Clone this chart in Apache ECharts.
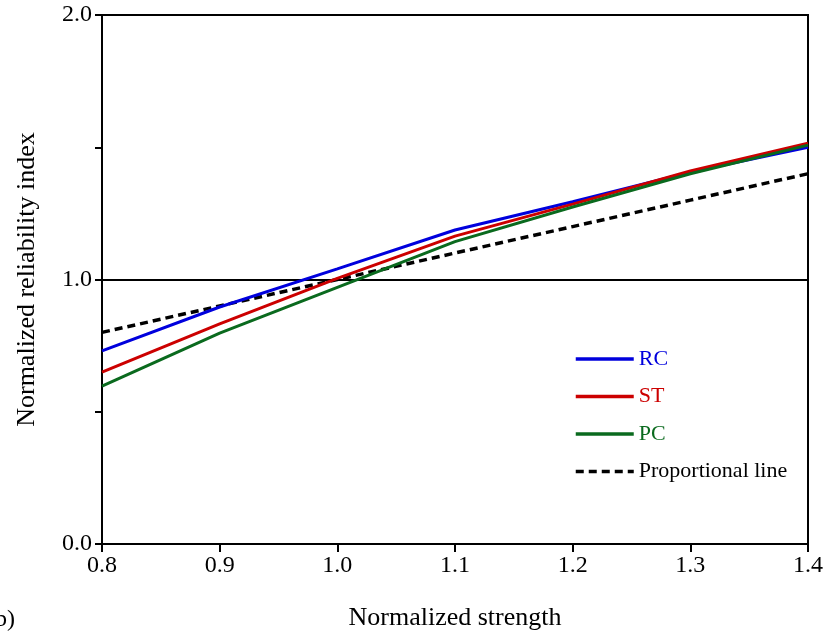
<!DOCTYPE html>
<html><head><meta charset="utf-8">
<script src="https://cdn.jsdelivr.net/npm/echarts@6/dist/echarts.min.js"></script>
<style>html,body{margin:0;padding:0;background:#fff}#c{width:826px;height:636px}</style>
</head><body><div id="c"></div>
<script>
const strength = [0.8, 0.9, 1.0, 1.1, 1.2, 1.3, 1.4];
const rc = [0.73, 0.896, 1.04, 1.187, 1.294, 1.406, 1.50];
const st = [0.65, 0.832, 1.004, 1.164, 1.285, 1.41, 1.515];
const pc = [0.597, 0.797, 0.97, 1.143, 1.274, 1.40, 1.508];
const proportional = [0.8, 0.9, 1.0, 1.1, 1.2, 1.3, 1.4];
const seriesNames = ['RC', 'ST', 'PC', 'Proportional line'];
const colors = ['#0000dd', '#cc0000', '#0a6a1e', '#000000'];

const font = 'Liberation Serif, Times New Roman, serif';
const pair = arr => strength.map((x, i) => [x, arr[i]]);
const mk = (name, data, color, dashed) => ({
  name, type: 'line', data: pair(data), symbol: 'none', showSymbol: false, smooth: false,
  lineStyle: { color, width: dashed ? 3.5 : 3, type: dashed ? [8, 5] : 'solid' },
  itemStyle: { color }
});

const chart = echarts.init(document.getElementById('c'), null, { renderer: 'canvas' });
chart.setOption({
  animation: false,
  backgroundColor: '#fff',
  grid: { left: 102, right: 18, top: 15, bottom: 92, show: true, borderColor: '#000', borderWidth: 2 },
  xAxis: {
    type: 'value', min: 0.8, max: 1.4, interval: 0.1,
    name: 'Normalized strength', nameLocation: 'middle', nameGap: 61,
    nameTextStyle: { fontFamily: font, fontSize: 26, color: '#000' },
    axisLine: { lineStyle: { color: '#000', width: 2 } },
    axisTick: { show: true, length: 8, lineStyle: { color: '#000', width: 2 } },
    axisLabel: { fontFamily: font, fontSize: 24, color: '#000', margin: 10,
      formatter: v => v.toFixed(1) },
    splitLine: { show: false }
  },
  yAxis: {
    type: 'value', min: 0, max: 2, interval: 0.5,
    name: 'Normalized reliability index', nameLocation: 'middle', nameGap: 62,
    nameTextStyle: { fontFamily: font, fontSize: 26, color: '#000' },
    axisLine: { show: true, lineStyle: { color: '#000', width: 2 } },
    axisTick: { show: true, length: 7, lineStyle: { color: '#000', width: 2 } },
    axisLabel: { fontFamily: font, fontSize: 24, color: '#000', margin: 10,
      formatter: v => (Math.abs(v - Math.round(v)) < 1e-9 ? v.toFixed(1) : '') },
    splitLine: { show: true, lineStyle: { color: ['#000', 'rgba(0,0,0,0)'], width: 2 } }
  },
  legend: {
    left: 574, top: 348, orient: 'vertical', padding: 0, itemWidth: 58, itemHeight: 14, itemGap: 15.5,
    itemStyle: { opacity: 0 },
    lineStyle: { width: 3.5 },
    data: seriesNames.map((n, i) => ({ name: n, textStyle: { color: i === 3 ? '#000' : colors[i] } })),
    textStyle: { fontFamily: font, fontSize: 22, lineHeight: 22, padding: [0, 0, 0, 0] }
  },
  series: [
    mk(seriesNames[3], proportional, colors[3], true),
    mk(seriesNames[0], rc, colors[0], false),
    mk(seriesNames[1], st, colors[1], false),
    mk(seriesNames[2], pc, colors[2], false)
  ],
  graphic: [{ type: 'text', left: -5, top: 608, style: { text: 'b)', font: '24px ' + font, fill: '#000' } }]
});
</script></body></html>
